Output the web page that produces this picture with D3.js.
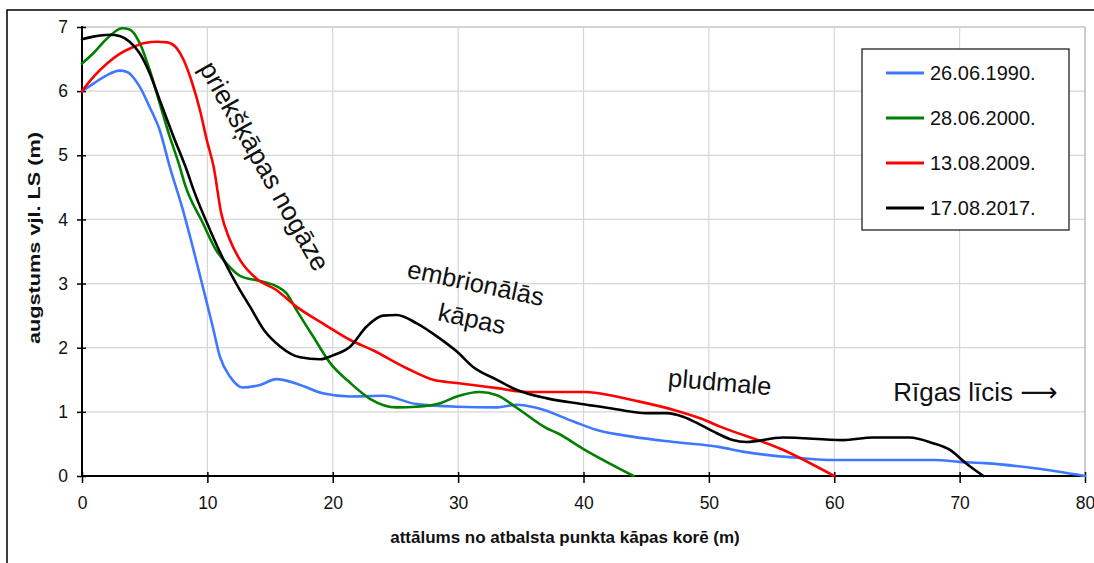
<!DOCTYPE html>
<html>
<head>
<meta charset="utf-8">
<script src="https://cdn.jsdelivr.net/npm/d3@7"></script>
<style>
  html, body { margin: 0; padding: 0; background: #fff; }
  svg { display: block; font-family: "Liberation Sans", Arial, sans-serif; }
</style>
</head>
<body>
<svg id="chart" width="1094" height="563"></svg>
<script>
// ---- data ----
const seriesNames = ["26.06.1990.", "28.06.2000.", "13.08.2009.", "17.08.2017."];
const seriesColors = ["#3f78ff", "#008000", "#ff0000", "#000000"];

const s1990 = [[0,6.0],[1,6.13],[2,6.25],[3,6.32],[3.6,6.3],[4.6,6.07],[5.4,5.75],[6.2,5.39],[7.0,4.82],[8.0,4.18],[8.9,3.52],[9.7,2.9],[10.4,2.35],[11.0,1.86],[11.8,1.55],[12.8,1.38],[14.2,1.42],[15.5,1.51],[17.4,1.42],[19.2,1.29],[21.4,1.24],[24.0,1.25],[26.7,1.12],[29.9,1.08],[33.1,1.07],[34.7,1.11],[36.3,1.06],[39.2,0.85],[41.0,0.72],[44.0,0.61],[47.2,0.53],[50.9,0.45],[52.7,0.38],[57.3,0.28],[60,0.25],[68,0.25],[70,0.22],[72,0.2],[76,0.12],[80,0]];

const s2000 = [[0,6.43],[0.9,6.59],[2.0,6.82],[3.2,6.98],[3.8,6.96],[4.6,6.75],[5.4,6.33],[6.2,5.81],[7.0,5.29],[7.8,4.82],[8.2,4.55],[9.6,3.96],[10.7,3.52],[11.5,3.32],[12.6,3.12],[14.2,3.04],[15.5,2.96],[16.3,2.85],[17.1,2.59],[18.45,2.17],[19.8,1.76],[21.4,1.45],[23.0,1.2],[25.1,1.07],[26.7,1.08],[28.5,1.13],[29.9,1.24],[31.7,1.31],[33.1,1.26],[34.7,1.06],[37.1,0.74],[37.9,0.67],[40.0,0.42],[44.0,0]];

const s2009 = [[0,6.0],[1,6.24],[2,6.43],[3,6.58],[4,6.68],[5,6.75],[6,6.77],[6.8,6.76],[7.55,6.67],[8.1,6.49],[8.75,6.15],[9.4,5.71],[9.95,5.24],[10.5,4.82],[11.1,4.1],[11.8,3.68],[12.6,3.37],[13.9,3.08],[15.5,2.9],[17.1,2.64],[19.2,2.38],[21.4,2.12],[23.2,1.96],[25.9,1.68],[28.0,1.5],[29.9,1.45],[33.1,1.37],[35.5,1.31],[40.2,1.31],[41.8,1.27],[44.0,1.18],[47.2,1.03],[49.3,0.9],[50.9,0.77],[55.9,0.41],[60,0]];

const s2017 = [[0,6.81],[0.9,6.85],[2.2,6.88],[3.0,6.86],[3.8,6.77],[4.6,6.59],[5.4,6.28],[6.2,5.86],[7.3,5.29],[8.35,4.77],[8.9,4.46],[10.2,3.84],[11.3,3.37],[12.3,3.0],[13.4,2.64],[14.5,2.28],[15.8,2.02],[17.4,1.85],[19.0,1.82],[20.0,1.88],[21.4,2.02],[22.7,2.33],[24.0,2.5],[25.1,2.51],[26.7,2.38],[28.5,2.15],[29.9,1.94],[31.2,1.7],[33.1,1.5],[34.7,1.34],[37.1,1.21],[40.0,1.12],[42.6,1.04],[45.0,0.98],[46.6,0.98],[48.0,0.92],[49.3,0.8],[50.6,0.67],[51.9,0.56],[53.0,0.53],[55.9,0.6],[60.7,0.56],[63.1,0.6],[66.0,0.6],[67.9,0.51],[69.2,0.41],[70.5,0.2],[71.9,0]];

const xTicks = [0,10,20,30,40,50,60,70,80];
const yTicks = [0,1,2,3,4,5,6,7];
const xTitle = "attālums no atbalsta punkta kāpas korē (m)";
const yTitle = "augstums vjl. LS (m)";
const annotations = [
  {text: "priekšķāpas nogāze", x: 9.3, y: 6.36, rot: 60.5, size: 26.5},
  {text: "embrionālās", x: 25.85, y: 3.1, rot: 12, size: 25.5},
  {text: "kāpas", x: 28.3, y: 2.43, rot: 12, size: 25.5},
  {text: "pludmale", x: 46.7, y: 1.4, rot: 5, size: 25.5},
  {text: "Rīgas līcis ⟶", x: 64.7, y: 1.17, rot: 0, size: 26}
];

// ---- drawing ----
const svg = d3.select("#chart");
const L = 82, R = 1085, T = 27, B = 476;
const x = d3.scaleLinear().domain([0, 80]).range([L, R]);
const y = d3.scaleLinear().domain([0, 7]).range([B, T]);

// outer frame
svg.append("rect").attr("x", 7).attr("y", 10).attr("width", 1110).attr("height", 580)
  .attr("fill", "none").attr("stroke", "#000").attr("stroke-width", 1.5);

// gridlines
const g = svg.append("g");
g.selectAll("line.hg").data(yTicks.filter(d => d > 0)).join("line")
  .attr("x1", L).attr("x2", R).attr("y1", d => y(d)).attr("y2", d => y(d))
  .attr("stroke", d => d === 7 ? "#a8a8a8" : "#d6d6d6").attr("stroke-width", 1.2);
g.selectAll("line.vg").data(xTicks.filter(d => d > 0)).join("line")
  .attr("x1", d => x(d)).attr("x2", d => x(d)).attr("y1", T).attr("y2", B)
  .attr("stroke", d => d === 80 ? "#a8a8a8" : "#d6d6d6").attr("stroke-width", 1.2);

// axes
const yAxis = svg.append("g").attr("transform", `translate(${L + 4},0)`)
  .call(d3.axisLeft(y).tickValues(yTicks).tickSize(9).tickPadding(9).tickFormat(d3.format("d")));
const xAxis = svg.append("g").attr("transform", `translate(0,${B - 4})`)
  .call(d3.axisBottom(x).tickValues(xTicks).tickSize(11).tickPadding(14).tickFormat(d3.format("d")));
[yAxis, xAxis].forEach(a => {
  a.attr("font-size", null).attr("font-family", null);
  a.select(".domain").remove();
  a.selectAll(".tick line").attr("stroke", "#000").attr("stroke-width", 1.5);
  a.selectAll(".tick text").style("font-size", "17.5px").attr("fill", "#111")
    .style("font-family", "'Liberation Sans', Arial, sans-serif");
});
svg.append("line").attr("x1", L).attr("x2", L).attr("y1", T - 1).attr("y2", B)
  .attr("stroke", "#000").attr("stroke-width", 2);
svg.append("line").attr("x1", L).attr("x2", R).attr("y1", B).attr("y2", B)
  .attr("stroke", "#000").attr("stroke-width", 2);

// axis titles
svg.append("text").attr("x", 565).attr("y", 543).attr("text-anchor", "middle")
  .attr("font-size", 17).attr("font-weight", "bold").attr("fill", "#111").text(xTitle);
svg.append("text").attr("transform", "translate(40,238) rotate(-90)").attr("text-anchor", "middle")
  .attr("font-size", 16).attr("font-weight", "bold").attr("fill", "#111")
  .attr("textLength", 212).attr("lengthAdjust", "spacingAndGlyphs").text(yTitle);

// series
const line = d3.line().x(d => x(d[0])).y(d => y(d[1])).curve(d3.curveMonotoneX);
const allSeries = [s1990, s2000, s2009, s2017];
svg.append("g").selectAll("path").data(allSeries).join("path")
  .attr("d", line).attr("fill", "none")
  .attr("stroke", (d, i) => seriesColors[i]).attr("stroke-width", 2.6)
  .attr("stroke-linejoin", "round").attr("stroke-linecap", "round");

// annotations
svg.append("g").selectAll("text").data(annotations).join("text")
  .attr("transform", d => `translate(${x(d.x)},${y(d.y)}) rotate(${d.rot})`)
  .attr("font-size", d => d.size).attr("fill", "#111")
  .attr("font-family", "Liberation Sans, Arial, 'DejaVu Sans', sans-serif")
  .text(d => d.text);

// legend
const lg = svg.append("g");
lg.append("rect").attr("x", 862).attr("y", 49).attr("width", 207).attr("height", 181)
  .attr("fill", "#fff").attr("stroke", "#222").attr("stroke-width", 1.3);
const rows = lg.selectAll("g.row").data(seriesNames).join("g")
  .attr("transform", (d, i) => `translate(0,${73 + i * 45})`);
rows.append("line").attr("x1", 886).attr("x2", 924).attr("y1", 0).attr("y2", 0)
  .attr("stroke", (d, i) => seriesColors[i]).attr("stroke-width", 2.8);
rows.append("text").attr("x", 930).attr("y", 7).attr("font-size", 20).attr("fill", "#111").text(d => d);
</script>
</body>
</html>
